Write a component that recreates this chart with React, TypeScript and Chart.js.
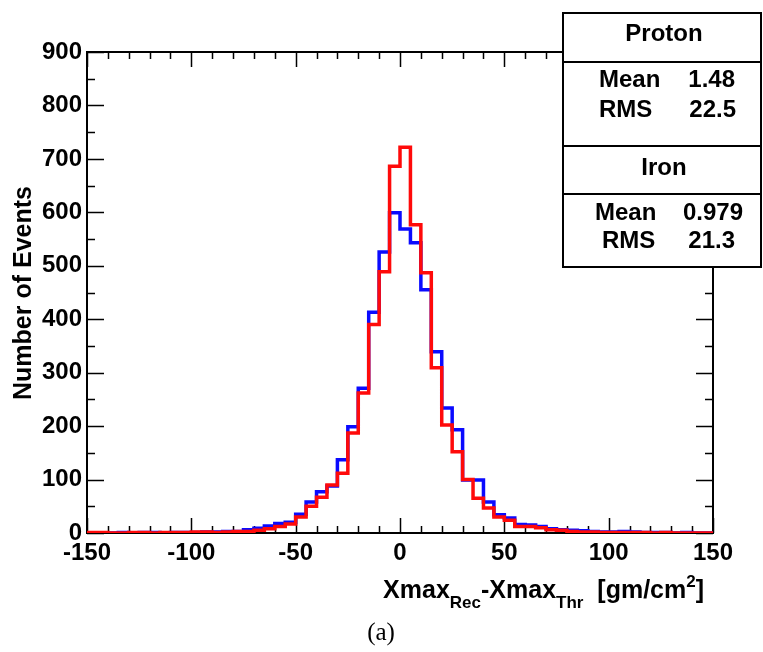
import React, { useEffect, useRef } from "react";
import { Chart, registerables } from "chart.js";

Chart.register(...registerables);

// Left edges of the 5 gm/cm^2 bins
const binEdges = [
  -150, -145, -140, -135, -130, -125, -120, -115, -110, -105,
  -100, -95, -90, -85, -80, -75, -70, -65, -60, -55,
  -50, -45, -40, -35, -30, -25, -20, -15, -10, -5,
  0, 5, 10, 15, 20, 25, 30, 35, 40, 45,
  50, 55, 60, 65, 70, 75, 80, 85, 90, 95,
  100, 105, 110, 115, 120, 125, 130, 135, 140, 145,
];
const upperEdge = 150;

// Proton showers
const protonCounts = [
  0, 0, 0, 1, 0, 1, 1, 0, 1, 1,
  1, 2, 2, 3, 3, 6, 9, 13, 18, 20,
  35, 58, 77, 88, 137, 199, 271, 413, 526, 599,
  569, 543, 455, 339, 234, 193, 99, 99, 58, 34,
  28, 16, 15, 12, 8, 6, 5, 4, 3, 2,
  2, 3, 2, 1, 1, 1, 0, 1, 0, 0,
];

// Iron showers
const ironCounts = [
  1, 1, 0, 0, 1, 1, 0, 1, 1, 1,
  2, 2, 1, 2, 3, 3, 5, 8, 12, 17,
  30, 50, 67, 90, 112, 187, 262, 390, 489, 686,
  722, 577, 487, 309, 202, 152, 100, 65, 47, 30,
  24, 12, 12, 10, 6, 5, 3, 2, 2, 1,
  1, 1, 1, 1, 0, 1, 0, 0, 0, 0,
];

const xMajorTicks = [-150, -100, -50, 0, 50, 100, 150];
const yMajorTicks = [0, 100, 200, 300, 400, 500, 600, 700, 800, 900];

const protonStats = { title: "Proton", mean: "1.48", rms: "22.5" };
const ironStats = { title: "Iron", mean: "0.979", rms: "21.3" };

const FONT = "'Liberation Sans', Arial, Helvetica, sans-serif";

function histPoints(counts: number[]) {
  const pts = binEdges.map((x, i) => ({ x, y: counts[i] }));
  pts.push({ x: upperEdge, y: counts[counts.length - 1] });
  return pts;
}

const framePlugin = {
  id: "rootFrame",
  beforeDatasetsDraw(chart: any) {
    const { ctx, chartArea: a, scales } = chart;
    const xs = scales.x;
    const ys = scales.y;
    ctx.save();
    ctx.strokeStyle = "#000";
    ctx.lineWidth = 1.5;
    ctx.beginPath();
    // x ticks: major every 50, minor every 10, bottom and top, pointing inward
    for (let v = -150; v <= 150; v += 10) {
      const px = Math.round(xs.getPixelForValue(v)) + 0.5;
      const len = v % 50 === 0 ? 15 : 7;
      ctx.moveTo(px, a.bottom);
      ctx.lineTo(px, a.bottom - len);
      ctx.moveTo(px, a.top);
      ctx.lineTo(px, a.top + len);
    }
    // y ticks: major every 100, minor every 50, left and right
    for (let v = 0; v <= 900; v += 50) {
      const py = Math.round(ys.getPixelForValue(v)) + 0.5;
      const len = v % 100 === 0 ? 17 : 8;
      ctx.moveTo(a.left, py);
      ctx.lineTo(a.left + len, py);
      ctx.moveTo(a.right, py);
      ctx.lineTo(a.right - len, py);
    }
    ctx.stroke();
    ctx.lineWidth = 2;
    ctx.strokeRect(a.left, a.top, a.right - a.left, a.bottom - a.top);
    ctx.restore();
  },
  afterDraw(chart: any) {
    const { ctx } = chart;
    ctx.save();
    ctx.fillStyle = "#000";

    // y-axis title
    ctx.save();
    ctx.translate(31, 293);
    ctx.rotate(-Math.PI / 2);
    ctx.font = `bold 25px ${FONT}`;
    ctx.textAlign = "center";
    ctx.textBaseline = "alphabetic";
    ctx.fillText("Number of Events", 0, 0);
    ctx.restore();

    // x-axis title with sub/superscripts
    const big = `bold 25px ${FONT}`;
    const small = `bold 17px ${FONT}`;
    const parts: [string, string, number][] = [
      ["Xmax", big, 0],
      ["Rec", small, 10],
      ["-Xmax", big, 0],
      ["Thr", small, 10],
      ["  [gm/cm", big, 0],
      ["2", small, -11],
      ["]", big, 0],
    ];
    let total = 0;
    for (const [t, f] of parts) {
      ctx.font = f;
      total += ctx.measureText(t).width;
    }
    let x = 704 - total;
    const base = 598;
    ctx.textAlign = "left";
    for (const [t, f, dy] of parts) {
      ctx.font = f;
      ctx.fillText(t, x, base + dy);
      x += ctx.measureText(t).width;
    }

    // caption
    ctx.font = `25px 'Liberation Serif', 'DejaVu Serif', serif`;
    ctx.textAlign = "center";
    ctx.fillText("(a)", 381, 640);

    // statistics box
    const L = 563, R = 761, T = 13, B = 267;
    const rows = [62, 146, 194];
    ctx.fillStyle = "#fff";
    ctx.fillRect(L, T, R - L, B - T);
    ctx.strokeStyle = "#000";
    ctx.lineWidth = 2;
    ctx.strokeRect(L, T, R - L, B - T);
    ctx.beginPath();
    for (const r of rows) {
      ctx.moveTo(L, r);
      ctx.lineTo(R, r);
    }
    ctx.stroke();

    ctx.fillStyle = "#000";
    ctx.font = `bold 24px ${FONT}`;
    ctx.textAlign = "center";
    ctx.fillText(protonStats.title, 664, 41);
    ctx.fillText(ironStats.title, 664, 175);

    ctx.textAlign = "left";
    ctx.fillText("Mean", 599, 87);
    ctx.fillText("RMS", 599, 117);
    ctx.fillText("Mean", 595, 220);
    ctx.fillText("RMS", 602, 248);
    ctx.textAlign = "right";
    ctx.fillText(protonStats.mean, 735, 87);
    ctx.fillText(protonStats.rms, 736, 117);
    ctx.fillText(ironStats.mean, 743, 220);
    ctx.fillText(ironStats.rms, 735, 248);

    ctx.restore();
  },
};

export default function App() {
  const canvasRef = useRef<HTMLCanvasElement | null>(null);

  useEffect(() => {
    const canvas = canvasRef.current;
    if (!canvas) return;
    const tickFont = { family: FONT, size: 24, weight: "bold" as const };
    const chart = new Chart(canvas, {
      type: "line",
      data: {
        datasets: [
          {
            label: "Iron",
            data: histPoints(ironCounts),
            borderColor: "#ff0a0a",
            borderWidth: 3.5,
            stepped: true,
            pointRadius: 0,
            fill: false,
          },
          {
            label: "Proton",
            data: histPoints(protonCounts),
            borderColor: "#0a0aff",
            borderWidth: 3.5,
            stepped: true,
            pointRadius: 0,
            fill: false,
          },
        ],
      },
      options: {
        responsive: false,
        animation: false,
        events: [],
        layout: { padding: { top: 52, right: 50, left: 0, bottom: 0 } },
        plugins: {
          legend: { display: false },
          tooltip: { enabled: false },
        },
        scales: {
          x: {
            type: "linear",
            min: -150,
            max: 150,
            afterBuildTicks: (s: any) => {
              s.ticks = xMajorTicks.map((v) => ({ value: v }));
            },
            ticks: {
              font: tickFont,
              color: "#000",
              padding: 6,
              maxRotation: 0,
              autoSkip: false,
            },
            grid: { display: false, drawTicks: false },
            border: { display: false },
            afterFit: (s: any) => {
              s.height = 119;
            },
          },
          y: {
            type: "linear",
            min: 0,
            max: 900,
            afterBuildTicks: (s: any) => {
              s.ticks = yMajorTicks.map((v) => ({ value: v }));
            },
            ticks: {
              font: tickFont,
              color: "#000",
              padding: 5,
              autoSkip: false,
            },
            grid: { display: false, drawTicks: false },
            border: { display: false },
            afterFit: (s: any) => {
              s.width = 87;
            },
          },
        },
      },
      plugins: [framePlugin],
    });
    return () => chart.destroy();
  }, []);

  return (
    <div
      style={{
        position: "absolute",
        left: 0,
        top: 0,
        width: 763,
        height: 652,
        background: "#fff",
      }}
    >
      <canvas ref={canvasRef} width={763} height={652} style={{ display: "block" }} />
    </div>
  );
}
